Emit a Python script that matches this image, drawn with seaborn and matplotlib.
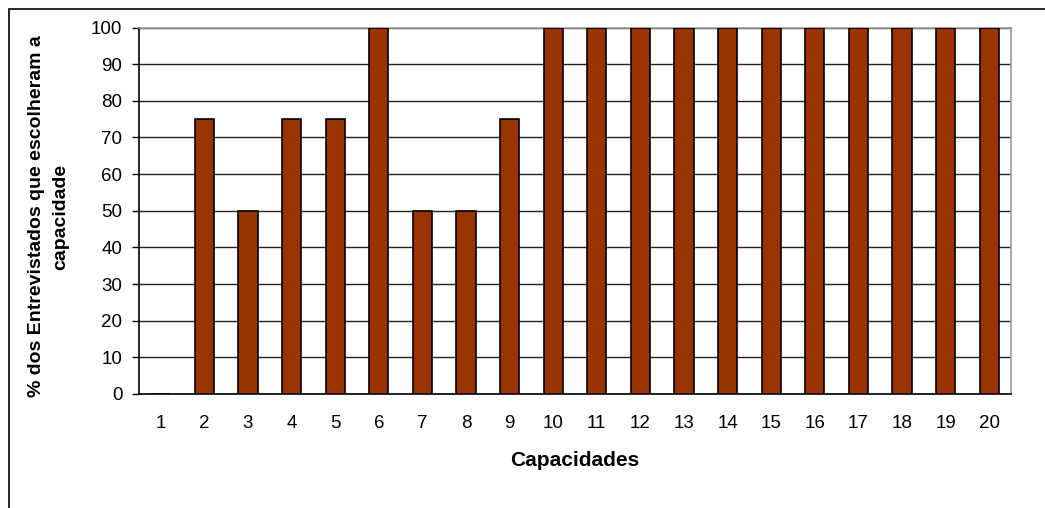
import matplotlib
matplotlib.use("Agg")
import matplotlib.pyplot as plt
from matplotlib.patches import Rectangle
import numpy as np
import pandas as pd
import seaborn as sns

# Capabilities and share of interviewees who chose each one
capacidades = [str(i) for i in range(1, 21)]
percentuais = [0, 75, 50, 75, 75, 100, 50, 50, 75, 100,
               100, 100, 100, 100, 100, 100, 100, 100, 100, 100]
yticks = list(range(0, 101, 10))

sns.set_theme(style="white")
plt.rcParams["font.family"] = ["Liberation Sans", "DejaVu Sans"]

df = pd.DataFrame({"Capacidades": capacidades, "Percentual": percentuais})

fig = plt.figure(figsize=(10.45, 5.08), dpi=100)
ax = fig.add_axes([139 / 1045, 1 - 394 / 508, (1011 - 139) / 1045, (394 - 27.5) / 508])

sns.barplot(data=df, x="Capacidades", y="Percentual", order=capacidades,
            color="#993300", saturation=1, width=0.44,
            edgecolor="black", linewidth=1.2, ax=ax, zorder=3)

ax.set_xlim(-0.5, len(capacidades) - 0.5)
ax.set_ylim(0, 100)
ax.set_yticks(yticks)
ax.yaxis.grid(True, color="#222222", linewidth=1.0, zorder=0)
ax.set_axisbelow(True)

# tick marks sit between the categories, labels at the centres
ax.set_xticks(np.arange(-0.5, len(capacidades), 1.0), minor=True)
ax.tick_params(axis="x", which="major", length=0, pad=15, labelsize=13.5, colors="black")
ax.tick_params(axis="x", which="minor", length=5, width=1, color="black", direction="out")
ax.tick_params(axis="y", which="major", length=5, width=1, color="black",
               direction="out", pad=7, labelsize=13.5, labelcolor="black", left=True)

for side in ("left", "bottom"):
    ax.spines[side].set_color("black")
    ax.spines[side].set_linewidth(1.2)
for side in ("top", "right"):
    ax.spines[side].set_visible(True)
    ax.spines[side].set_color("#999999")
    ax.spines[side].set_linewidth(1.2)

ax.set_xlabel("Capacidades", fontsize=15, fontweight="bold", color="black")
ax.xaxis.set_label_coords(0.5, -(451 - 394) / 366.5)
ax.set_ylabel("% dos Entrevistados que escolheram a\ncapacidade",
              fontsize=14, fontweight="bold", linespacing=1.5, color="black")
ax.yaxis.set_label_coords((69 - 139) / 872, (394 - 216.5) / 366.5)

# outer chart frame
fig.patches.append(Rectangle((9 / 1045, -0.1), 1.2, 1 - 9 / 508 + 0.1,
                             transform=fig.transFigure, fill=False,
                             edgecolor="black", linewidth=1.2))

fig.savefig("out.png", dpi=100, facecolor="white")
